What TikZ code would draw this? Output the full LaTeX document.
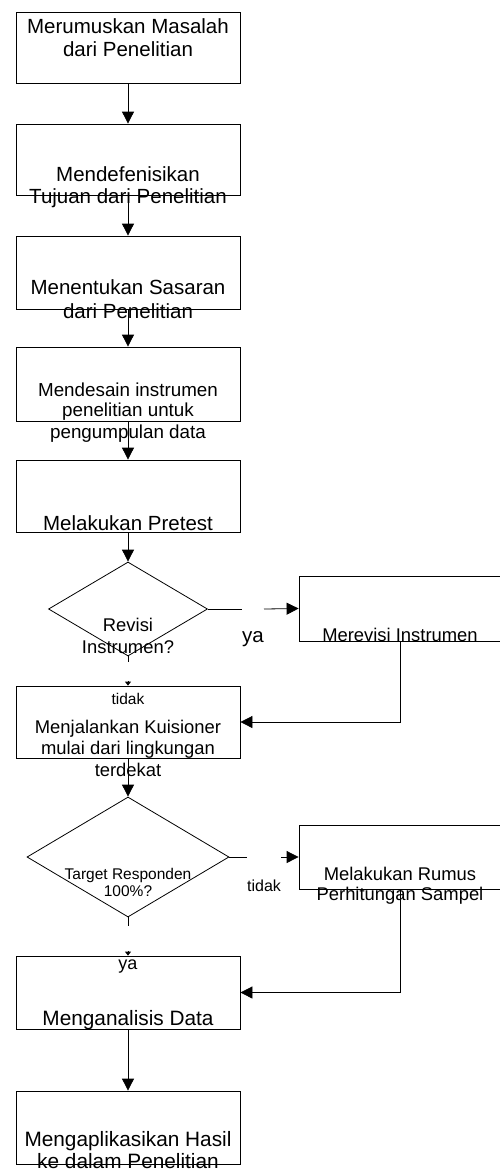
\documentclass[tikz,border=0pt]{standalone}
\usepackage{fontspec}
\setmainfont{Liberation Sans}
\usetikzlibrary{shapes.geometric,arrows.meta}
\begin{document}
\begin{tikzpicture}[x=1pt,y=-1pt,
  box/.style={draw,line width=0.8pt,rectangle,inner sep=0pt,minimum width=224pt},
  rbox/.style={draw,line width=0.8pt,rectangle,inner sep=0pt,minimum width=202pt},
  dia/.style={draw,line width=0.8pt,diamond,inner sep=0pt},
  lblL/.style={inner sep=0pt,anchor=base,font=\fontsize{20.5}{24}\selectfont},
  lblM/.style={inner sep=0pt,anchor=base,font=\fontsize{18.4}{22}\selectfont},
  lblS/.style={inner sep=0pt,anchor=base,font=\fontsize{15.5}{18}\selectfont},
  arr/.style={draw,line width=0.8pt,-{Triangle[length=12pt,width=12pt]}},
  sarr/.style={draw,line width=0.8pt,-{Triangle[length=4pt,width=6pt]}},
  ln/.style={draw,line width=0.8pt}
]
\clip (0,0) rectangle (500,1171);
\fill[white] (0,0) rectangle (500,1171);

% boxes
\node[box,minimum height=71pt] (B1) at (128,47.5) {};
\node[box,minimum height=71pt] (B2) at (128,159.5) {};
\node[box,minimum height=73pt] (B3) at (128,272.5) {};
\node[box,minimum height=74pt] (B4) at (128,384) {};
\node[box,minimum height=72pt] (B5) at (128,496) {};
\node[dia,minimum width=159pt,minimum height=94pt] (D1) at (128,609) {};
\node[rbox,minimum height=65pt] (R1) at (400,608.5) {};
\node[box,minimum height=72pt] (B6) at (128,722) {};
\node[dia,minimum width=202pt,minimum height=120pt] (D2) at (128,857) {};
\node[rbox,minimum height=64pt] (R2) at (400,857) {};
\node[box,minimum height=73pt] (B7) at (128,992.5) {};
\node[box,minimum height=73pt] (B8) at (128,1127.5) {};

% helper coordinates
\coordinate (d1r) at (242,609);
\coordinate (d1r2) at (264,609);
\coordinate (d1b) at (128,662);
\coordinate (d1b2) at (128,681);
\coordinate (d2r) at (247,857);
\coordinate (d2r2) at (281,857);
\coordinate (d2b) at (128,926);
\coordinate (d2b2) at (128,951);

% connectors
\draw[arr] (B1.south) -- (B2.north);
\draw[arr] (B2.south) -- (B3.north);
\draw[arr] (B3.south) -- (B4.north);
\draw[arr] (B4.south) -- (B5.north);
\draw[arr] (B5.south) -- (D1.north);
\draw[ln] (D1.east) -- (d1r);
\draw[arr] (d1r2) -- (R1.west);
\draw[arr] (R1.south) |- (B6.east);
\draw[ln] (D1.south) -- (d1b);
\draw[sarr] (d1b2) -- (B6.north);
\draw[arr] (B6.south) -- (D2.north);
\draw[ln] (D2.east) -- (d2r);
\draw[arr] (d2r2) -- (R2.west);
\draw[arr] (R2.south) |- (B7.east);
\draw[ln] (D2.south) -- (d2b);
\draw[sarr] (d2b2) -- (B7.north);
\draw[arr] (B7.south) -- (B8.north);

% texts
\node[lblL] (t1a) at (128,33) {Merumuskan Masalah};
\node[lblL] (t1b) at (128,56) {dari Penelitian};
\node[lblL] (t2a) at (128,181.7) {Mendefenisikan};
\node[lblL] (t2b) at (128,203) {Tujuan dari Penelitian};
\node[lblL] (t3a) at (128,294.3) {Menentukan Sasaran};
\node[lblL] (t3b) at (128,318) {dari Penelitian};
\node[lblM,font=\fontsize{18.8}{22}\selectfont] (t4a) at (128,396) {Mendesain instrumen};
\node[lblM,font=\fontsize{18.8}{22}\selectfont] (t4b) at (128,416.7) {penelitian untuk};
\node[lblM,font=\fontsize{18.8}{22}\selectfont] (t4c) at (128,438) {pengumpulan data};
\node[lblL] (t5) at (128,530) {Melakukan Pretest};
\node[lblM] (td1a) at (128,631.7) {Revisi};
\node[lblM] (td1b) at (128,653) {Instrumen?};
\node[lblL] (tya1) at (253,642.7) {ya};
\node[lblM] (tr1) at (400,641.7) {Merevisi Instrumen};
\node[lblS] (ttd1) at (128,704) {tidak};
\node[lblM] (t6a) at (128,733) {Menjalankan Kuisioner};
\node[lblM] (t6b) at (128,754) {mulai dari lingkungan};
\node[lblM] (t6c) at (128,776.7) {terdekat};
\node[lblS] (td2a) at (128,879) {Target Responden};
\node[lblS] (td2b) at (128,896.7) {100\%?};
\node[lblS,font=\fontsize{16}{19}\selectfont] (ttd2) at (264,891) {tidak};
\node[lblM] (tr2a) at (400,880) {Melakukan Rumus};
\node[lblM] (tr2b) at (400,900.7) {Perhitungan Sampel};
\node[lblM,font=\fontsize{18}{21}\selectfont] (tya2) at (128,969) {ya};
\node[lblL,font=\fontsize{20.8}{24}\selectfont] (t7) at (128,1025) {Menganalisis Data};
\node[lblL,font=\fontsize{20.8}{24}\selectfont] (t8a) at (128,1146.7) {Mengaplikasikan Hasil};
\node[lblL,font=\fontsize{20.8}{24}\selectfont] (t8b) at (128,1168) {ke dalam Penelitian};
\end{tikzpicture}
\end{document}
